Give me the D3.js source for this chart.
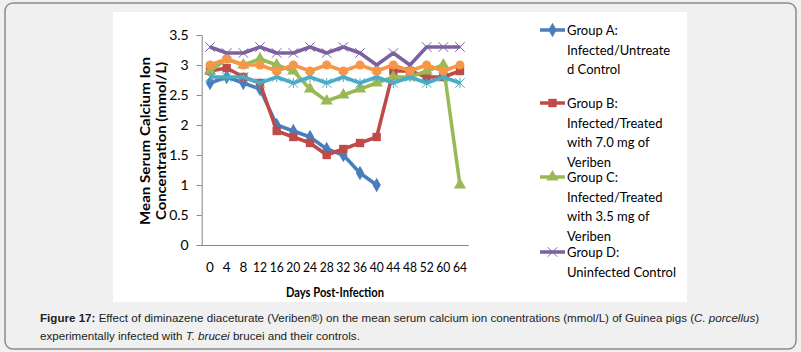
<!DOCTYPE html>
<html>
<head>
<meta charset="utf-8">
<script src="https://cdn.jsdelivr.net/npm/d3@7"></script>
<style>
  body { margin: 0; background: #f0f0f0; }
  svg { display: block; }
</style>
</head>
<body>
<svg id="chart" width="801" height="352"></svg>
<script>
// --- data ---
const days = ["0","4","8","12","16","20","24","28","32","36","40","44","48","52","60","64"];
const groupA = [2.7,2.8,2.7,2.6,2.0,1.9,1.8,1.6,1.5,1.2,1.0,null,null,null,null,null];
const groupB = [2.9,2.95,2.8,2.7,1.9,1.8,1.7,1.5,1.6,1.7,1.8,2.9,2.9,2.8,2.8,2.9];
const groupC = [2.9,3.1,3.0,3.1,3.0,2.9,2.6,2.4,2.5,2.6,2.7,2.8,2.8,2.9,3.0,1.0];
const groupD = [3.3,3.2,3.2,3.3,3.2,3.2,3.3,3.2,3.3,3.2,3.0,3.2,3.0,3.3,3.3,3.3];
const series5 = [2.8,2.8,2.8,2.7,2.8,2.7,2.8,2.7,2.8,2.7,2.8,2.7,2.8,2.7,2.8,2.7];
const series6 = [3.0,3.1,3.0,3.0,2.9,3.0,2.9,3.0,2.9,3.0,2.9,3.0,2.9,3.0,2.9,3.0];
const yTicks = [0,0.5,1,1.5,2,2.5,3,3.5];

const series = [
  { values: groupA, color: "#4a7ebb", sym: "diamond", legend: ["Group A:", "Infected/Untreate", "d Control"] },
  { values: groupB, color: "#be4b48", sym: "square",  legend: ["Group B:", "Infected/Treated", "with 7.0 mg of", "Veriben"] },
  { values: groupC, color: "#98b954", sym: "triangle", legend: ["Group C:", "Infected/Treated", "with 3.5 mg of", "Veriben"] },
  { values: groupD, color: "#7d60a0", sym: "x", legend: ["Group D:", "Uninfected Control"] },
  { values: series5, color: "#4bacc6", sym: "star" },
  { values: series6, color: "#f79646", sym: "circle" }
];

const svg = d3.select("#chart");
const font = "Lato, 'Open Sans', sans-serif";
const capFont = "'Liberation Sans', Arial, sans-serif";

// --- khung ngoài + nền trắng ---
svg.append("rect")
  .attr("x", 5).attr("y", 3).attr("width", 791).attr("height", 346)
  .attr("rx", 8)
  .attr("fill", "#f0f0f0").attr("stroke", "#8c8c8c").attr("stroke-width", 1.5);
svg.append("rect")
  .attr("x", 113).attr("y", 12).attr("width", 574).attr("height", 290)
  .attr("fill", "#fff");

// --- scales ---
const x = d3.scaleBand().domain(days).range([201.7, 468.3]);
const y = d3.scaleLinear().domain([0, 3.5]).range([245, 35]);
const cx = d => x(d) + x.bandwidth() / 2;

// Trục Y
const gy = svg.append("g")
  .attr("transform", "translate(201.7,0)")
  .call(d3.axisLeft(y).tickValues(yTicks).tickSize(5).tickPadding(8).tickFormat(d3.format("")));
gy.selectAll("path, line").attr("stroke", "#868686");
gy.selectAll("text").style("font-family", font).style("font-size", "14px").attr("fill", "#000");

// Trục X
const gx = svg.append("g")
  .attr("transform", "translate(0,245)")
  .call(d3.axisBottom(x).tickSize(0).tickPadding(17));
gx.select(".domain").attr("stroke", "#868686");
gx.selectAll("text").style("font-family", font).style("font-size", "13.5px").attr("fill", "#000")
  .each(function(d) { if (d.length > 1) d3.select(this).attr("textLength", 14).attr("lengthAdjust", "spacingAndGlyphs"); });

// --- symbols ---
function marker(g, sym, px, py, color) {
  if (sym === "diamond") {
    g.append("path").attr("d", d3.symbol(d3.symbolDiamond, 60)()).attr("transform", `translate(${px},${py})`).attr("fill", color);
  } else if (sym === "square") {
    g.append("path").attr("d", d3.symbol(d3.symbolSquare, 70)()).attr("transform", `translate(${px},${py})`).attr("fill", color);
  } else if (sym === "triangle") {
    g.append("path").attr("d", d3.symbol(d3.symbolTriangle, 65)()).attr("transform", `translate(${px},${py})`).attr("fill", color);
  } else if (sym === "circle") {
    g.append("circle").attr("cx", px).attr("cy", py).attr("r", 4.5).attr("fill", color);
  } else if (sym === "x") {
    g.append("path").attr("d", d3.symbol(d3.symbolX, 60)()).attr("transform", `translate(${px},${py})`)
      .attr("stroke", color).attr("stroke-width", 1).attr("fill", "none");
  } else if (sym === "star") {
    g.append("path").attr("d", d3.symbol(d3.symbolX, 60)()).attr("transform", `translate(${px},${py})`)
      .attr("stroke", color).attr("stroke-width", 1).attr("fill", "none");
    g.append("path").attr("d", "M0,-5V5").attr("transform", `translate(${px},${py})`)
      .attr("stroke", color).attr("stroke-width", 1);
  }
}

const line = d3.line()
  .defined(d => d.v != null)
  .x(d => cx(d.day))
  .y(d => y(d.v));

// Vẽ các đường (thứ tự như Excel)
series.forEach(s => {
  const pts = days.map((day, i) => ({ day, v: s.values[i] }));
  const g = svg.append("g");
  g.append("path")
    .datum(pts)
    .attr("d", line)
    .attr("fill", "none")
    .attr("stroke", s.color)
    .attr("stroke-width", 3.5)
    .attr("stroke-linejoin", "round");
  pts.filter(p => p.v != null).forEach(p => marker(g, s.sym, cx(p.day), y(p.v), s.color));
});

// --- axis titles ---
svg.append("text")
  .attr("x", 335).attr("y", 297)
  .attr("text-anchor", "middle")
  .attr("textLength", 98).attr("lengthAdjust", "spacingAndGlyphs")
  .style("font-family", font).style("font-size", "14px").style("font-weight", "bold")
  .text("Days Post-Infection");

const yt = svg.append("g").attr("transform", "translate(150,141) rotate(-90)");
yt.append("text").attr("x", 0).attr("y", 0)
  .attr("text-anchor", "middle")
  .attr("textLength", 168).attr("lengthAdjust", "spacingAndGlyphs")
  .style("font-family", font).style("font-size", "14px").style("font-weight", "bold")
  .text("Mean Serum Calcium Ion");
yt.append("text").attr("x", 0).attr("y", 16)
  .attr("text-anchor", "middle")
  .attr("textLength", 158).attr("lengthAdjust", "spacingAndGlyphs")
  .style("font-family", font).style("font-size", "14px").style("font-weight", "bold")
  .text("Concentration (mmol/L)");

// --- legend ---
const legendY = [30, 103, 177, 252];
series.slice(0, 4).forEach((s, i) => {
  const ly = legendY[i];
  const g = svg.append("g");
  g.append("line").attr("x1", 540).attr("x2", 565).attr("y1", ly).attr("y2", ly)
    .attr("stroke", s.color).attr("stroke-width", 3.5);
  marker(g, s.sym, 552.5, ly, s.color);
  s.legend.forEach((t, j) => {
    g.append("text")
      .attr("x", 567).attr("y", ly + 5 + j * 19.5)
      .style("font-family", font).style("font-size", "13px")
      .text(t);
  });
});

// --- caption ---
const cap = svg.append("text")
  .attr("x", 40).attr("y", 322)
  .style("font-family", capFont)
  .style("font-size", "11.6px").attr("fill", "#222");
cap.append("tspan").style("font-weight", "bold").text("Figure 17:");
cap.append("tspan").text(" Effect of diminazene diaceturate (Veriben®) on the mean serum calcium ion conentrations (mmol/L) of Guinea pigs (");
cap.append("tspan").style("font-style", "italic").text("C. porcellus");
cap.append("tspan").text(")");
const cap2 = svg.append("text")
  .attr("x", 40).attr("y", 340)
  .style("font-family", capFont)
  .style("font-size", "11.6px").attr("fill", "#222");
cap2.append("tspan").text("experimentally infected with ");
cap2.append("tspan").style("font-style", "italic").text("T. brucei");
cap2.append("tspan").text(" brucei and their controls.");
</script>
</body>
</html>
